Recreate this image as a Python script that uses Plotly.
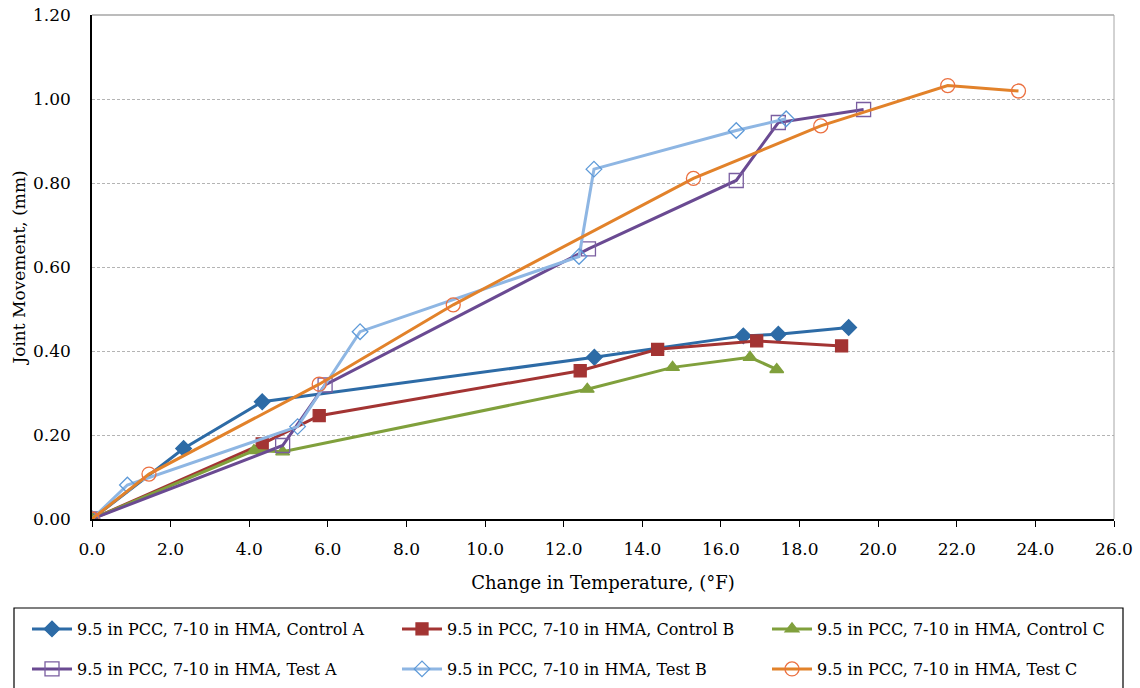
import plotly.graph_objects as go

# ---- data ----
names = [
    "9.5 in PCC, 7-10 in HMA, Control A",
    "9.5 in PCC, 7-10 in HMA, Control B",
    "9.5 in PCC, 7-10 in HMA, Control C",
    "9.5 in PCC, 7-10 in HMA, Test A",
    "9.5 in PCC, 7-10 in HMA, Test B",
    "9.5 in PCC, 7-10 in HMA, Test C",
]
ctrlA_x = [0, 2.33, 4.33, 12.78, 16.57, 17.46, 19.25]
ctrlA_y = [0, 0.168, 0.279, 0.385, 0.436, 0.440, 0.456]
ctrlB_x = [0, 4.33, 5.78, 12.42, 14.39, 16.91, 19.07]
ctrlB_y = [0, 0.179, 0.246, 0.353, 0.404, 0.424, 0.412]
ctrlC_x = [0, 4.12, 4.85, 12.60, 14.77, 16.74, 17.42]
ctrlC_y = [0, 0.163, 0.160, 0.309, 0.361, 0.385, 0.356]
testA_x = [0, 4.85, 5.93, 12.63, 16.39, 17.46, 19.63]
testA_y = [0, 0.175, 0.319, 0.643, 0.806, 0.944, 0.975]
testB_x = [0, 0.90, 5.23, 6.82, 12.39, 12.77, 16.39, 17.66]
testB_y = [0, 0.081, 0.220, 0.446, 0.625, 0.833, 0.925, 0.953]
testC_x = [0, 1.45, 5.78, 9.19, 15.30, 18.54, 21.77, 23.57]
testC_y = [0, 0.107, 0.321, 0.510, 0.811, 0.936, 1.032, 1.019]

x_ticks = [i * 2.0 for i in range(14)]
y_ticks = [i * 0.2 for i in range(7)]

FONT = "DejaVu Serif"
W, H = 1140, 688

series = [
    (ctrlA_x, ctrlA_y, "#2D6BA6", "diamond", "#2D6BA6", 12, "legend"),
    (ctrlB_x, ctrlB_y, "#A33433", "square", "#A33433", 12, "legend"),
    (ctrlC_x, ctrlC_y, "#80A03C", "triangle-up", "#80A03C", 12, "legend"),
    (testA_x, testA_y, "#6A4A92", "square-open", "#7A5EA0", 14, "legend2"),
    (testB_x, testB_y, "#8EB6E3", "diamond-open", "#5E9AD8", 12, "legend2"),
    (testC_x, testC_y, "#E2822A", "circle-open", "#EB7040", 14, "legend2"),
]

fig = go.Figure()
for (xs, ys, col, sym, mcol, msize, leg), nm in zip(series, names):
    fig.add_trace(go.Scatter(
        x=xs, y=ys, mode="lines+markers", name=nm, legend=leg,
        line=dict(color=col, width=3),
        marker=dict(symbol=sym, size=msize, color=mcol,
                    line=dict(color=mcol, width=1.3)),
    ))

leg_common = dict(orientation="h", x=27 / W, xanchor="left", yanchor="middle",
                  entrywidth=315, entrywidthmode="pixels", bgcolor="rgba(0,0,0,0)",
                  font=dict(family=FONT, size=16), itemwidth=40)

fig.update_layout(
    width=W, height=H,
    margin=dict(l=0, r=0, t=0, b=0, pad=0),
    paper_bgcolor="white", plot_bgcolor="white",
    font=dict(family=FONT, size=15, color="black"),
    showlegend=True,
    legend=dict(y=(H - 629) / H, **leg_common),
    legend2=dict(y=(H - 669) / H, **leg_common),
    xaxis=dict(domain=[92 / W, 1114 / W],
               range=[0, 26], tickvals=x_ticks, ticktext=[f"{v:.1f}" for v in x_ticks],
               showgrid=False, zeroline=False, showline=True, linecolor="black", linewidth=1.5,
               ticks="outside", ticklen=6, tickcolor="black", automargin=False,
               ticklabelstandoff=8,
               title=dict(text="Change in Temperature, (°F)", font=dict(size=18), standoff=18),
               tickfont=dict(size=17)),
    yaxis=dict(domain=[(H - 519) / H, (H - 15) / H],
               range=[0, 1.2], tickvals=y_ticks, ticktext=[f"{v:.2f}" for v in y_ticks],
               showgrid=True, gridcolor="#B4B4B4", griddash="3px,2px", gridwidth=1,
               zeroline=False, showline=True, linecolor="black", linewidth=1.5,
               ticks="", automargin=False, ticklabelstandoff=16,
               title=dict(text="Joint Movement, (mm)", font=dict(size=17), standoff=3),
               tickfont=dict(size=17)),
    shapes=[
        dict(type="line", xref="x domain", yref="y domain", x0=1, x1=1, y0=0, y1=1,
             line=dict(color="#A6A6A6", width=1)),
        dict(type="line", xref="x domain", yref="y domain", x0=0, x1=1, y0=1, y1=1,
             line=dict(color="#A6A6A6", width=1.5)),
        dict(type="rect", xref="paper", yref="paper",
             x0=14 / W, x1=1123 / W, y0=(H - 608) / H, y1=-0.05,
             line=dict(color="black", width=1.2), fillcolor="rgba(0,0,0,0)"),
    ],
)

fig.write_html("out.html")
